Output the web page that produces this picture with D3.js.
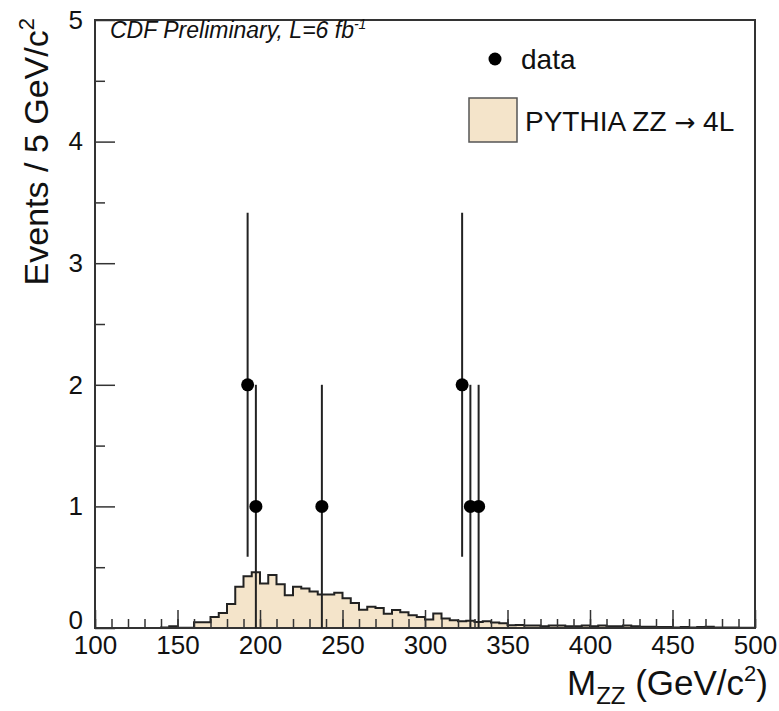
<!DOCTYPE html>
<html>
<head>
<meta charset="utf-8">
<script src="https://cdn.jsdelivr.net/npm/d3@7"></script>
<style>
  body { margin: 0; background: #fff; }
  text { font-family: "Liberation Sans", Arial, Helvetica, sans-serif; fill: #111; }
</style>
</head>
<body>
<svg width="779" height="711"></svg>
<script>
// histogram: PYTHIA ZZ -> 4L, 5 GeV bins from 100 to 500 (lower edges)
const binLow = d3.range(100, 500, 5);
const mcValues = [
  0, 0, 0, 0, 0, 0, 0, 0,
  0.005, 0.015, 0.003, 0.003, 0.047, 0.047, 0.09, 0.123,
  0.197, 0.34, 0.425, 0.458, 0.365, 0.435, 0.36, 0.27,
  0.34, 0.325, 0.30, 0.275, 0.275, 0.29, 0.245, 0.205,
  0.15, 0.175, 0.165, 0.117, 0.148, 0.13, 0.105, 0.09,
  0.07, 0.12, 0.078, 0.063, 0.055, 0.06, 0.05, 0.055,
  0.045, 0.04, 0.022, 0.025, 0.02, 0.02, 0.015, 0.02,
  0.02, 0.015, 0.015, 0.02, 0.015, 0.02, 0.015, 0.015,
  0.02, 0.015, 0.01, 0.01, 0.008, 0.008, 0.005, 0.008,
  0.005, 0.008, 0.01, 0.005, 0.005, 0.005, 0.003, 0.003
];

// data points
const dataMass = [192.5, 197.5, 237.5, 322.5, 327.5, 332.5];
const dataEvents = [2, 1, 1, 2, 1, 1];

const xMajor = [100, 150, 200, 250, 300, 350, 400, 450, 500];
const yMajor = [0, 1, 2, 3, 4, 5];

const svg = d3.select("svg");
const frame = { left: 95, right: 755, top: 20, bottom: 628 };

const x = d3.scaleLinear().domain([100, 500]).range([frame.left, frame.right]);
const y = d3.scaleLinear().domain([0, 5]).range([frame.bottom, frame.top]);

const histPts = binLow.map((b, i) => ({ x: b, v: mcValues[i] }));
histPts.push({ x: 500, v: mcValues[mcValues.length - 1] });

const area = d3.area()
  .curve(d3.curveStepAfter)
  .x((d) => x(d.x))
  .y0(y(0))
  .y1((d) => y(d.v));

const line = d3.line()
  .curve(d3.curveStepAfter)
  .x((d) => x(d.x))
  .y((d) => y(d.v));

svg.append("path")
  .datum(histPts)
  .attr("fill", "#f4e4ca")
  .attr("d", area);

svg.append("path")
  .datum(histPts)
  .attr("fill", "none")
  .attr("stroke", "#222")
  .attr("stroke-width", 2)
  .attr("d", line);

// axes (ticks point inward)
const xAxisMinor = d3.axisBottom(x)
  .tickValues(d3.range(100, 501, 10))
  .tickSize(-9)
  .tickFormat("");
const xAxis = d3.axisBottom(x)
  .tickValues(xMajor)
  .tickSize(-18)
  .tickPadding(8)
  .tickFormat(d3.format("d"));

const gx = svg.append("g").attr("transform", `translate(0,${frame.bottom})`);
gx.append("g").call(xAxisMinor);
gx.append("g").call(xAxis);

const yAxisMinor = d3.axisLeft(y)
  .tickValues([0.5, 1.5, 2.5, 3.5, 4.5])
  .tickSize(-10)
  .tickFormat("");
const yAxis = d3.axisLeft(y)
  .tickValues(yMajor)
  .tickSize(-20)
  .tickPadding(12)
  .tickFormat(d3.format("d"));

const gy = svg.append("g").attr("transform", `translate(${frame.left},0)`);
gy.append("g").call(yAxisMinor);
gy.append("g").call(yAxis);

svg.selectAll(".domain").remove();
svg.selectAll(".tick line").attr("stroke", "#333").attr("stroke-width", 1.5);
svg.selectAll(".tick text")
  .attr("font-size", 26)
  .style("font-family", "Liberation Sans, Arial, sans-serif")
  .attr("fill", "#111");
// lift the "0" of the y axis off the "100" below it, as in the original
gy.selectAll(".tick text").filter((d) => d === 0).attr("y", -8);

// frame
svg.append("rect")
  .attr("x", frame.left).attr("y", frame.top)
  .attr("width", frame.right - frame.left).attr("height", frame.bottom - frame.top)
  .attr("fill", "none")
  .attr("stroke", "#333")
  .attr("stroke-width", 2);

// data with error bars
const pts = dataMass.map((m, i) => ({ m: m, n: dataEvents[i] }));
svg.selectAll(".err")
  .data(pts)
  .enter()
  .append("line")
  .attr("class", "err")
  .attr("x1", (d) => x(d.m))
  .attr("x2", (d) => x(d.m))
  .attr("y1", (d) => y(d.n + Math.sqrt(d.n)))
  .attr("y2", (d) => y(Math.max(0, d.n - Math.sqrt(d.n))))
  .attr("stroke", "#222")
  .attr("stroke-width", 2);

svg.selectAll(".dot")
  .data(pts)
  .enter()
  .append("circle")
  .attr("class", "dot")
  .attr("cx", (d) => x(d.m))
  .attr("cy", (d) => y(d.n))
  .attr("r", 6.5)
  .attr("fill", "#000");

// header
const hdr = svg.append("text")
  .attr("x", 110).attr("y", 38)
  .attr("font-size", 23)
  .attr("font-style", "italic");
hdr.append("tspan").text("CDF Preliminary, L=6 fb");
hdr.append("tspan").attr("font-size", 14).attr("dy", -9).text("-1");

// legend
svg.append("circle").attr("cx", 495).attr("cy", 59).attr("r", 6.5).attr("fill", "#000");
svg.append("text").attr("x", 521).attr("y", 69).attr("font-size", 28).text("data");
svg.append("rect")
  .attr("x", 469).attr("y", 98).attr("width", 48).attr("height", 44)
  .attr("fill", "#f4e4ca").attr("stroke", "#555").attr("stroke-width", 1.5);
const leg = svg.append("text").attr("x", 525).attr("y", 131).attr("font-size", 28);
leg.append("tspan").text("PYTHIA ZZ ");
leg.append("tspan").style("font-family", "DejaVu Sans").attr("font-size", 25).text("\u2192");
leg.append("tspan").text(" 4L");

// axis titles
const xt = svg.append("text")
  .attr("x", 768).attr("y", 695)
  .attr("text-anchor", "end")
  .attr("font-size", 35);
xt.append("tspan").text("M");
xt.append("tspan").attr("font-size", 24).attr("dy", 9).text("ZZ");
xt.append("tspan").attr("dy", -9).text(" (GeV/c");
xt.append("tspan").attr("font-size", 22).attr("dy", -14).text("2");
xt.append("tspan").attr("dy", 14).text(")");

const yt = svg.append("text")
  .attr("transform", "translate(48,18) rotate(-90)")
  .attr("text-anchor", "end")
  .attr("font-size", 34);
yt.append("tspan").text("Events / 5 GeV/c");
yt.append("tspan").attr("font-size", 22).attr("dy", -14).text("2");
</script>
</body>
</html>
